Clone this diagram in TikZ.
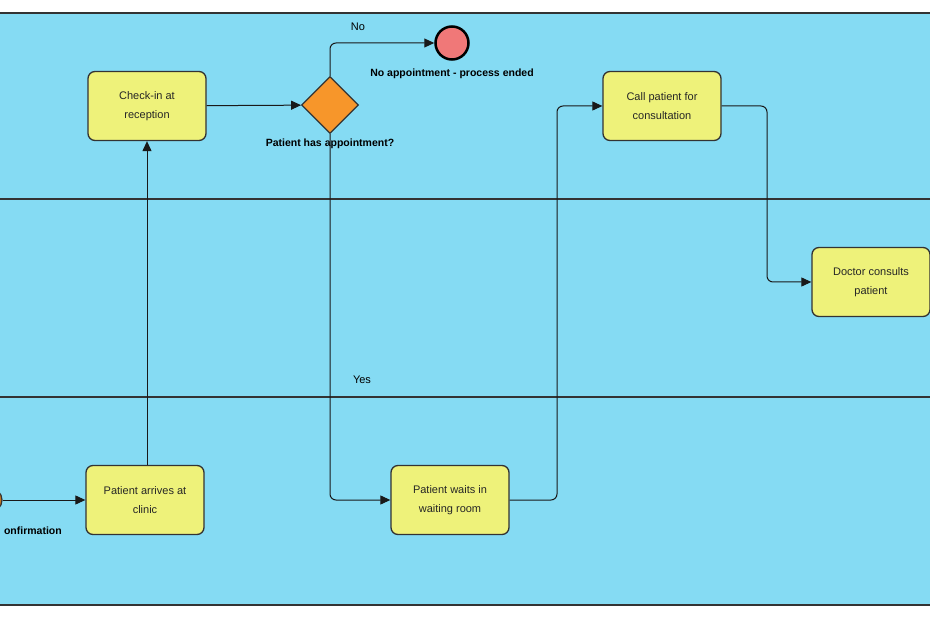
\documentclass[tikz,border=0pt]{standalone}
\usepackage{fontspec}
\setmainfont{Liberation Sans}
\usetikzlibrary{arrows.meta,shapes.geometric}
\definecolor{pool}{HTML}{85DBF3}
\definecolor{task}{HTML}{EEF27A}
\definecolor{gw}{HTML}{F7962A}
\definecolor{endc}{HTML}{F07878}
\tikzset{
 taskbox/.style={draw=black!80,line width=1.3pt,fill=task,rounded corners=7pt,minimum width=118pt,minimum height=69pt,align=center,font=\fontsize{11}{19}\selectfont,text=black!85},
 flow/.style={draw=black!90,line width=1pt,-{Triangle[length=10pt,width=9pt]},rounded corners=6pt},
 lbl/.style={font=\fontsize{11}{12}\selectfont,text=black},
 blbl/.style={font=\bfseries\fontsize{10.5}{12}\selectfont,text=black},
}
\begin{document}
\begin{tikzpicture}[x=1pt,y=-1pt]
\useasboundingbox (0,0) rectangle (930,620);
\begin{scope}
\clip (0,0) rectangle (930,620);
\fill[pool] (-20,13) rectangle (930,605);
\draw[black!80,line width=1.2pt] (-20,13) -- (930,13);
\draw[black!80,line width=1.2pt] (-20,605) -- (930,605);
\draw[black!80,line width=1.2pt] (-20,199) -- (930,199);
\draw[black!80,line width=1.2pt] (-20,397) -- (930,397);
\node[taskbox] (checkin) at (147,106) {Check-in at\\reception};
\node[draw=black!80,line width=1.2pt,fill=gw,diamond,minimum width=57pt,minimum height=57pt,inner sep=0pt] (gw) at (330,105) {};
\node[circle,draw=black,line width=2.5pt,fill=endc,minimum size=33pt,inner sep=0pt] (end) at (452,43) {};
\node[blbl] at (452,74) {No appointment - process ended};
\node[blbl] at (330,144) {Patient has appointment?};
\node[taskbox] (call) at (662,106) {Call patient for\\consultation};
\node[taskbox] (doctor) at (871,282) {Doctor consults\\patient};
\node[taskbox] (arrives) at (145,500) {Patient arrives at\\clinic};
\node[taskbox] (waits) at (450,500) {Patient waits in\\waiting room};
\node[circle,draw=black!80,line width=1.2pt,fill=gw!80!black,minimum size=24pt,inner sep=0pt] (start) at (-10,500) {};
\node[blbl,anchor=east,inner sep=0pt] at (62,531) {onfirmation};
\draw[flow] (start) -- (arrives);
\draw[flow] (checkin.south |- arrives.north) -- (checkin.south);
\draw[flow] (checkin) -- (gw);
\draw[flow] (gw.north) |- (end.west);
\node[lbl] at (358,27) {No};
\draw[flow] (gw.south) |- (waits.west);
\node[lbl] at (362,380) {Yes};
\draw[flow] (waits.east) -- (557,500) -- (557,106) -- (call.west);
\draw[flow] (call.east) -- (767,106) -- (767,282) -- (doctor.west);
\end{scope}
\end{tikzpicture}
\end{document}
